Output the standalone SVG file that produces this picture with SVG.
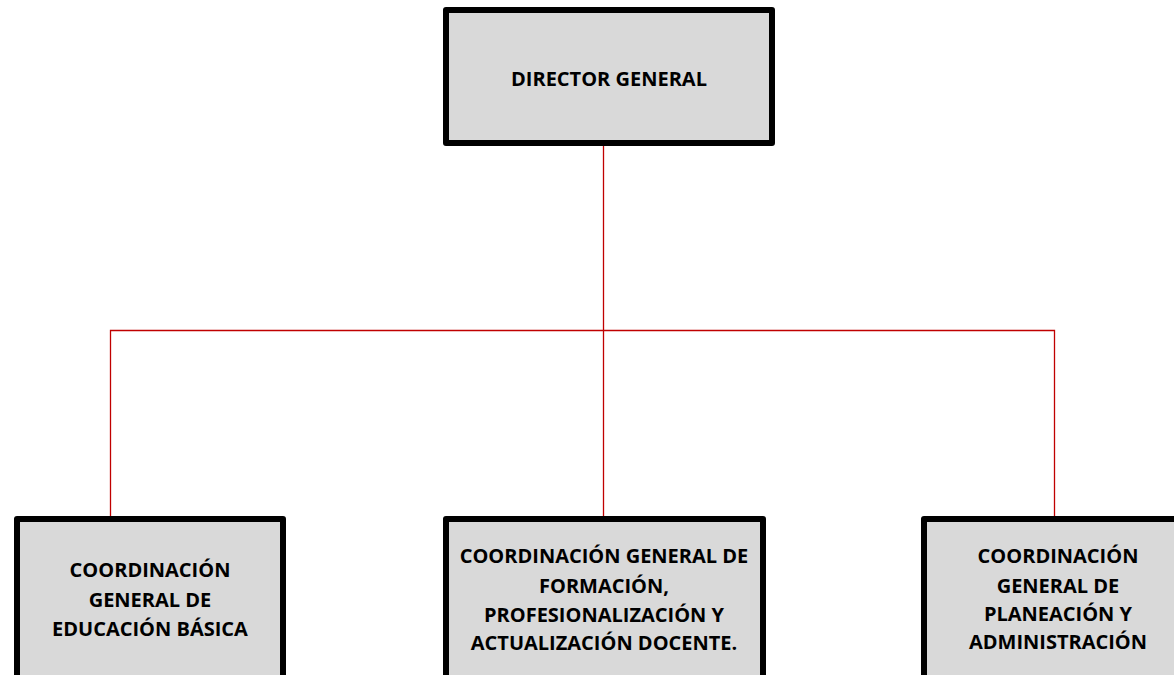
<svg xmlns="http://www.w3.org/2000/svg" width="1174" height="675" viewBox="0 0 1174 675">
<style>
.box{fill:#d9d9d9;stroke:#000;stroke-width:6;stroke-linejoin:round}
.t{font-family:"Open Sans","Liberation Sans",sans-serif;font-weight:bold;font-size:20px;fill:#000;text-anchor:middle}
.c{fill:none;stroke:#c00000;stroke-width:1.3}
</style>
<rect width="1174" height="675" fill="#fff"/>
<g id="connectors">
<line class="c" x1="603.5" y1="146" x2="603.5" y2="516"/>
<polyline class="c" points="110.5,516 110.5,330.5 1054.5,330.5 1054.5,516"/>
</g>
<g id="director">
<rect class="box" x="446" y="10" width="326" height="133"/>
<text class="t" x="609" y="86">DIRECTOR GENERAL</text>
</g>
<g id="coord-basica">
<rect class="box" x="17" y="519" width="266" height="200"/>
<text class="t" x="150" y="577">COORDINACIÓN</text>
<text class="t" x="150" y="607">GENERAL DE</text>
<text class="t" x="150" y="636">EDUCACIÓN BÁSICA</text>
</g>
<g id="coord-formacion">
<rect class="box" x="446" y="519" width="317" height="200"/>
<text class="t" x="604" y="563">COORDINACIÓN GENERAL DE</text>
<text class="t" x="604" y="593">FORMACIÓN,</text>
<text class="t" x="604" y="622">PROFESIONALIZACIÓN Y</text>
<text class="t" x="604" y="650">ACTUALIZACIÓN DOCENTE.</text>
</g>
<g id="coord-planeacion">
<rect class="box" x="924" y="519" width="268" height="200"/>
<text class="t" x="1058" y="563">COORDINACIÓN</text>
<text class="t" x="1058" y="593">GENERAL DE</text>
<text class="t" x="1058" y="621">PLANEACIÓN Y</text>
<text class="t" x="1058" y="649">ADMINISTRACIÓN</text>
</g>
</svg>
